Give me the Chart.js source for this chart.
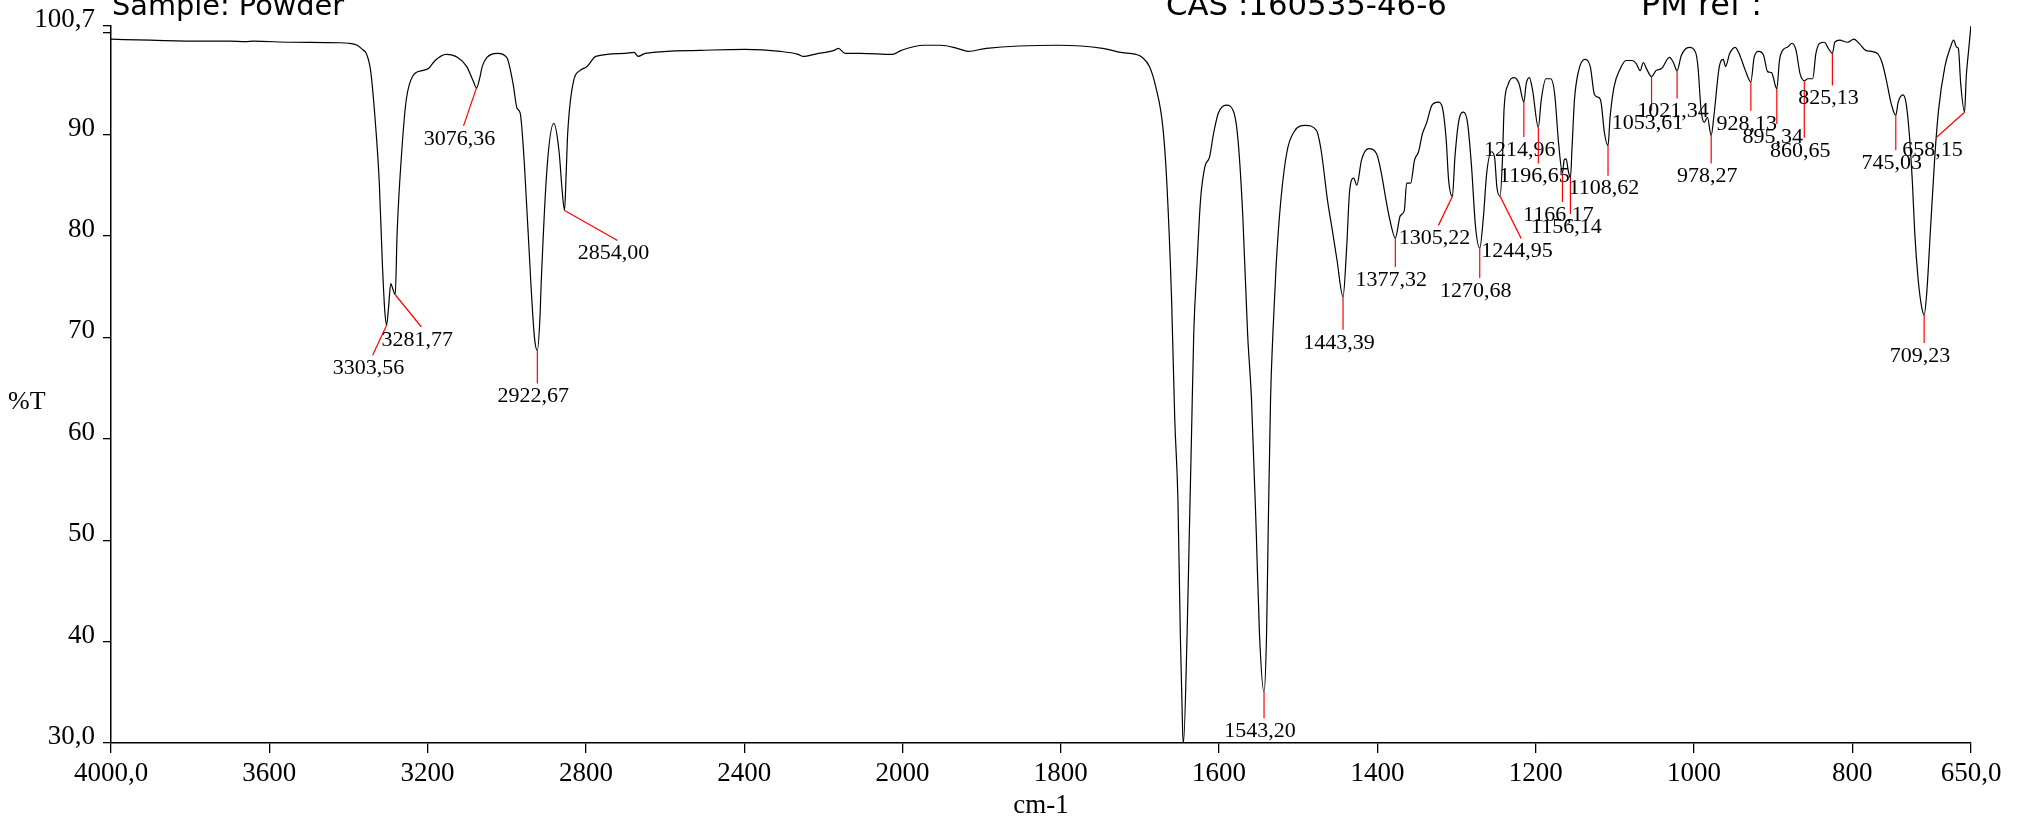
<!DOCTYPE html>
<html><head><meta charset="utf-8">
<script src="https://cdn.jsdelivr.net/npm/chart.js@4.4.1/dist/chart.umd.min.js"></script>
<style>html,body{margin:0;padding:0;background:#fff;overflow:hidden}canvas{display:block}</style>
</head><body>
<canvas id="c" width="2020" height="819"></canvas>
<script>
// ---------- DATA ----------
const wavenumbers = [
 4000,3900,3773,3700,3660,3640,3547,3423,3401,3378,3365,3355,3344,3333,3322,3314,3308,3303.56,3299,3293,3288,3281.77,3277,3265,3254,3237,3214,3198,3181,3153,3124,3101,3085,3076.36,3068,3062,3039,3023,3000,2984,2974,2966,2955,2939,2930,2922.67,2916,2913,2898,2881,2868,2860,2854,2850,2846,2831,2815,2797,2775,2701,2678,2668,2650,2511,2399,2309,2264,2252,2218,2173,2162,2145,2105,2026,2003,
 1973,1951,1931,1917,1894,1804,1747,1725,1705,1697,1688,1680,1671,1666,1660,1656,1652,1649,1646,1645,1640.4,1637.6,1634.8,1632,1628,1623.5,1618,1612,1607,1601,1591,1581,1576,1570,1564,1559,1553,1549,1543.2,1540,1538,1535,1532,1528,1522,1514,1505,1491,1477,1471,1463,1457,1451,1443.39,1439,1435,1430,1426,1420,1411,1401,1395,1389,1384,1377.32,
 1371,1366,1363,1358,1353,1348,1343,1338,1331,1323,1318,1313,1310,1305.22,1302,1297,1291,1286,1281,1276,1270.68,1266,1262,1256,1252,1249,1244.95,1242,1240,1235,1227,1221,1214.96,1212,1208,1204,1196.65,1193,1187,1181,1176,1171,1166.17,1164,1161.5,1159,1156.14,1154,1151,1146,1138,1131,1126,1122,1118,1113,1108.62,1106,1101,1093,1086,1078,1073,1068,1064,1060,1053.61,1048,1041,1031,1026,1021.34,1016,1006,998,995,991,987,983,978.27,975,968,963,960,955,948,942,935,928.13,924,918,912,907,902,895.34,892,887,882,876,871,866,860.65,856,850,846,841,835,831,825.13,822,816,806,798,791,783,776,768,762,756,751,745.03,742,736,732,728,724,721,717,713,709.23,706,701,696,691,683,676,672,668,666,663,658.15,656,653,650
];
const transmittance = [
 99.4,99.3,99.2,99.2,99.15,99.2,99.1,99.05,99.0,98.8,98.4,98.0,96.3,91.7,85.2,77.0,72.5,71.2,72.8,75.3,74.8,74.2,80.3,88.5,93.4,95.8,96.3,96.5,97.3,97.9,97.6,96.7,95.3,94.6,95.6,96.7,97.9,98.0,97.6,95.0,92.6,92.1,86.8,75.3,70.0,68.7,72.0,75.3,86.8,91.1,88.4,84.5,82.5,86.0,90.1,95.3,96.3,96.7,97.7,98.0,98.1,97.7,98.0,98.3,98.4,98.2,97.9,97.7,97.95,98.3,98.5,98.0,98.0,97.9,98.3,
 98.8,98.8,98.5,98.2,98.5,98.8,98.5,98.1,97.9,97.6,96.7,94.7,90.7,85.2,73.7,61.9,54.0,40.8,31.0,30.0,40.8,50.7,60.5,70.4,77.0,83.5,86.8,87.8,90.1,92.1,92.9,92.1,89.4,81.9,70.4,63.8,50.7,40.8,35.0,40.8,50.7,63.8,70.4,77.0,83.5,88.4,90.3,90.9,90.4,88.4,83.5,80.6,77.6,74.0,78.6,84.5,85.7,85.0,87.5,88.6,88.1,86.2,83.5,81.5,79.8,
 82.0,82.5,85.2,85.2,87.5,88.3,90.1,91.1,92.9,93.2,92.7,89.4,85.5,83.9,87.8,91.4,92.2,91.1,86.8,80.9,78.8,81.9,86.1,88.3,87.8,84.8,83.9,87.5,92.4,94.9,95.6,95.0,93.2,95.0,95.6,94.4,90.7,93.4,95.5,95.5,94.0,89.1,86.2,87.5,87.6,86.5,85.7,88.8,93.4,96.2,97.4,96.7,94.0,93.7,93.4,90.1,88.9,91.7,94.7,96.5,97.3,97.3,97.0,96.3,97.1,96.5,95.7,96.3,96.5,97.6,97.1,96.3,97.8,98.6,98.1,96.7,92.4,91.2,91.7,89.9,91.7,96.7,97.4,96.7,97.97,98.6,97.8,96.3,95.2,97.6,98.2,97.8,96.2,96.1,94.5,97.3,98.4,98.6,99.0,98.3,96.0,95.3,95.5,95.5,97.97,99.0,99.1,98.6,98.0,99.1,99.3,99.1,99.4,98.96,98.3,98.2,97.97,97.0,95.0,93.1,91.9,93.2,93.9,93.1,90.1,85.2,80.2,75.9,73.3,72.2,74.3,80.9,87.5,92.4,96.7,98.6,99.3,98.6,98.5,95.0,92.2,95.7,98.3,100.8
];
const peakWavenumbers = [3303.56,3281.77,3076.36,2922.67,2854.00,1543.20,1443.39,1377.32,1305.22,1270.68,1244.95,1214.96,1196.65,1166.17,1156.14,1108.62,1053.61,1021.34,978.27,928.13,895.34,860.65,825.13,745.03,709.23,658.15];
const peakTransmittance = [71.2,74.2,94.6,68.7,82.5,35.0,74.0,79.8,83.9,78.8,83.9,93.2,90.7,86.2,85.7,88.9,95.7,96.3,89.9,95.2,94.5,95.3,98.0,91.9,72.2,92.2];
const xTickValues = [4000,3600,3200,2800,2400,2000,1800,1600,1400,1200,1000,800,650];
const xTickLabels = ['4000,0','3600','3200','2800','2400','2000','1800','1600','1400','1200','1000','800','650,0'];
const yTickValues = [30,40,50,60,70,80,90,100,100.7];
const yTickLabels = ['30,0','40','50','60','70','80','90','','100,7'];
const headerTexts = ['Sample: Powder','CAS :160535-46-6','PM ref :'];
const xAxisTitle = 'cm-1';
const yAxisTitle = '%T';

// ---------- LAYOUT / STYLE ----------
const axisBreak = 2000;              // scale changes below 2000 cm-1
const stepHigh = 400, stepLow = 200; // cm-1 per tick interval in each segment
const labelLeader = [ // leader-line end offsets (px) from each peak
 [-14,30],[26,32],[-13,38],[0,33],[53,30],[0,26],[0,33],[0,29],[-14,29],[0,30],[21,42],[0,35],[0,36],[0,29],[0,36],[0,30],[0,34],[0,28],[0,28],[0,29],[0,35],[0,57],[0,32],[0,35],[0,28],[-28,25]
];
const headerLayout = [{x:112,w:232},{x:1166,w:281},{x:1641,w:121}];
const serif = "'Liberation Serif','Times New Roman',serif";

// ---------- custom split wavenumber scale ----------
class IRScale extends Chart.LinearScale {
  _units(v){ const hi=this.max; return v>=axisBreak ? (hi-v)/stepHigh : (hi-axisBreak)/stepHigh + (axisBreak-v)/stepLow; }
  getPixelForValue(v){ return this.getPixelForDecimal(this._units(v)/this._units(this.min)); }
  getValueForPixel(p){
    const u=this.getDecimalForPixel(p)*this._units(this.min), ub=this._units(axisBreak);
    return u<=ub ? this.max-u*stepHigh : axisBreak-(u-ub)*stepLow;
  }
}
IRScale.id='irwave';
IRScale.defaults=Chart.LinearScale.defaults;
Chart.register(IRScale);

const fmt = v => v.toFixed(2).replace('.', ',');

const peakPlugin = {
  id:'peaks',
  afterDatasetsDraw(chart){
    const {ctx, scales:{x,y}} = chart;
    ctx.save();
    ctx.font = '22px ' + serif;
    ctx.textAlign='center'; ctx.textBaseline='middle';
    peakWavenumbers.forEach((w,i)=>{
      const ax=x.getPixelForValue(w), ay=y.getPixelForValue(peakTransmittance[i]);
      const ex=ax+labelLeader[i][0], ey=ay+labelLeader[i][1];
      ctx.strokeStyle='#ff0000'; ctx.lineWidth=1.2;
      ctx.beginPath(); ctx.moveTo(ax,ay); ctx.lineTo(ex,ey); ctx.stroke();
      ctx.fillStyle='#000';
      ctx.fillText(fmt(w), ex-4, ey+13);
    });
    ctx.restore();
  }
};
const textPlugin = {
  id:'texts',
  afterDraw(chart){
    const ctx=chart.ctx;
    ctx.save();
    ctx.fillStyle='#000';
    ctx.textBaseline='alphabetic'; ctx.textAlign='left';
    headerTexts.forEach((t,i)=>{
      ctx.font='26px "DejaVu Sans"';
      const m=ctx.measureText(t).width;
      const size=26*headerLayout[i].w/m;
      ctx.font=size.toFixed(1)+'px "DejaVu Sans"';
      ctx.fillText(t, headerLayout[i].x, 15);
    });
    ctx.font='26px '+serif;
    ctx.textBaseline='middle';
    ctx.fillText(yAxisTitle, 8, 402);
    ctx.font='27px '+serif;
    ctx.textAlign='center';
    const xs=chart.scales.x;
    ctx.fillText(xAxisTitle, (xs.left+xs.right)/2, 806);
    ctx.restore();
  }
};

Chart.defaults.font.family = serif;
Chart.defaults.color = '#000';

new Chart(document.getElementById('c'), {
  type:'line',
  data:{datasets:[{
    data: wavenumbers.map((w,i)=>({x:w, y:transmittance[i]})),
    borderColor:'#000', borderWidth:1.2, pointRadius:0,
    cubicInterpolationMode:'monotone', fill:false
  }]},
  options:{
    responsive:false, animation:false, devicePixelRatio:1,
    layout:{padding:{left:0,right:49,top:26,bottom:0}},
    plugins:{legend:{display:false}, tooltip:{enabled:false}},
    scales:{
      x:{
        type:'irwave', min:650, max:4000, position:'bottom',
        afterBuildTicks:s=>{ s.ticks = xTickValues.map(v=>({value:v})); },
        afterFit:s=>{ s.height=76; },
        ticks:{autoSkip:false, maxRotation:0, padding:5, font:{size:27}, color:'#000', callback:(v,i)=>xTickLabels[i]},
        grid:{drawOnChartArea:false, drawTicks:true, tickLength:10, color:'#000', lineWidth:1.3},
        border:{display:true, color:'#000', width:1.5},
        title:{display:false}
      },
      y:{
        min:30, max:100.7,
        afterBuildTicks:s=>{ s.ticks = yTickValues.map(v=>({value:v})); },
        afterFit:s=>{ s.width=111; },
        ticks:{autoSkip:false, padding:8, labelOffset:-6, font:{size:27}, color:'#000', callback:(v,i)=>yTickLabels[i]},
        grid:{drawOnChartArea:false, drawTicks:true, tickLength:8, color:'#000', lineWidth:1.3},
        border:{display:true, color:'#000', width:1.5}
      }
    }
  },
  plugins:[peakPlugin, textPlugin]
});
</script>
</body></html>
